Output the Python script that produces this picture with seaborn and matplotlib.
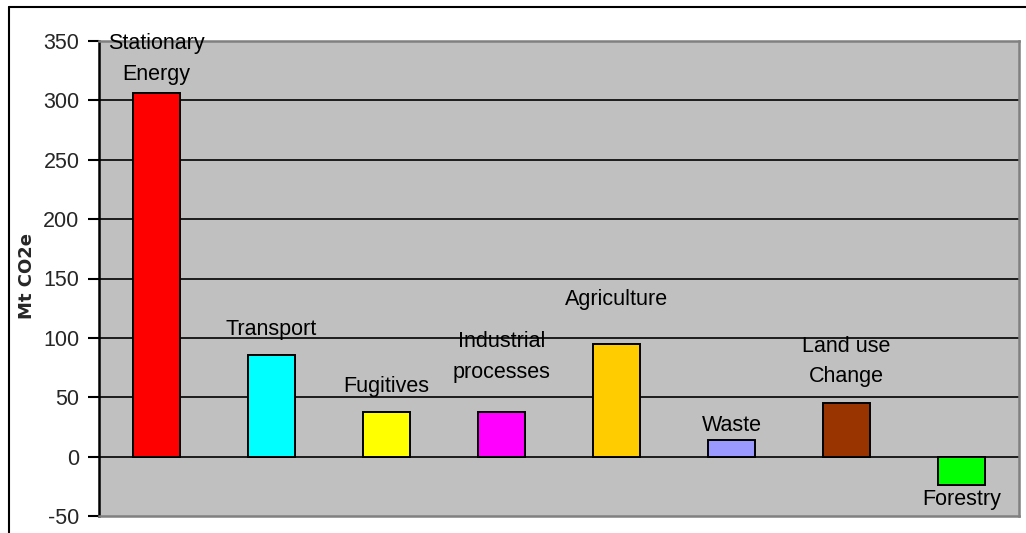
import matplotlib
matplotlib.use('Agg')
import matplotlib.pyplot as plt
from matplotlib.lines import Line2D
import pandas as pd
import seaborn as sns

categories = ["Stationary Energy", "Transport", "Fugitives", "Industrial processes",
              "Agriculture", "Waste", "Land use Change", "Forestry"]
emissions = [306, 86, 38, 38, 95, 14, 45, -24]
bar_labels = ["Stationary\nEnergy", "Transport", "Fugitives", "Industrial\nprocesses",
              "Agriculture", "Waste", "Land use\nChange", "Forestry"]
label_y = [335, 107, 59, 84, 132, 26, 80, -36]
bar_colors = ["#FF0000", "#00FFFF", "#FFFF00", "#FF00FF",
              "#FFCC00", "#9999FF", "#993300", "#00FF00"]
yticks = [-50, 0, 50, 100, 150, 200, 250, 300, 350]

sns.set_style("white")
plt.rcParams['font.family'] = ['Liberation Sans', 'DejaVu Sans']

df = pd.DataFrame({"category": categories, "value": emissions})

fig = plt.figure(figsize=(10.26, 5.33), dpi=100)
fig.patch.set_facecolor('white')
ax = fig.add_axes([99 / 1026, 1 - 516 / 533, 920 / 1026, 475 / 533])
ax.set_facecolor('#C0C0C0')

sns.barplot(data=df, x="category", y="value", hue="category", palette=bar_colors,
            legend=False, width=0.41, edgecolor='black', linewidth=1.4,
            saturation=1, ax=ax, zorder=3)

ax.set_ylim(-50, 350)
ax.set_xlim(-0.5, len(categories) - 0.5)
ax.set_yticks(yticks)
ax.set_yticklabels([str(t) for t in yticks], fontsize=15.5)
ax.set_xticks([])
ax.set_xlabel("")
ax.set_ylabel("Mt CO2e", fontsize=13, fontweight='bold', family='DejaVu Sans')
ax.yaxis.set_label_coords(-63 / 920, (516 - 276) / 475)
ax.tick_params(axis='y', direction='out', length=8, width=1.5, color='black', pad=6, left=True)

for t in yticks[1:-1]:
    ax.axhline(t, color='black', linewidth=1.2, zorder=1)

ax.spines['left'].set_color('black')
ax.spines['left'].set_linewidth(1.8)
for side in ['top', 'right', 'bottom']:
    ax.spines[side].set_color('#808080')
    ax.spines[side].set_linewidth(1.8)

for i, (txt, y) in enumerate(zip(bar_labels, label_y)):
    ax.text(i, y, txt, ha='center', va='center', fontsize=15.5, linespacing=1.6,
            color='black', zorder=5, clip_on=False)

# outer chart frame (left and top edges visible)
fig.add_artist(Line2D([8.5 / 1026, 8.5 / 1026], [0, 1 - 7 / 533], color='black', linewidth=1.5))
fig.add_artist(Line2D([8.5 / 1026, 1], [1 - 7 / 533, 1 - 7 / 533], color='black', linewidth=1.5))

fig.savefig("out.png", dpi=100)
plt.close(fig)
